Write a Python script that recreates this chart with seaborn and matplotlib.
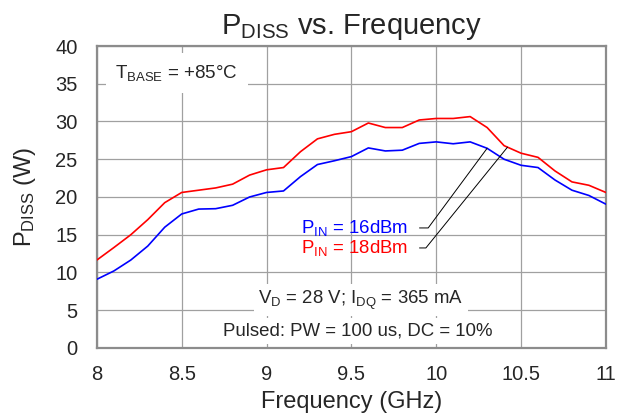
import numpy as np
import pandas as pd
import matplotlib
matplotlib.use('Agg')
import matplotlib.pyplot as plt
import seaborn as sns

# values, 0.1 GHz steps
freq_ghz = np.round(np.arange(8.0, 11.01, 0.1), 1)
pdiss_16dbm = [9.1, 10.2, 11.65, 13.5, 16.0, 17.75, 18.4, 18.45, 18.9, 20.0,
               20.6, 20.8, 22.7, 24.3, 24.8, 25.35, 26.5, 26.1, 26.2, 27.1,
               27.3, 27.05, 27.3, 26.45, 25.0, 24.2, 23.9, 22.25, 20.9, 20.2,
               19.05]
pdiss_18dbm = [11.65, 13.3, 15.0, 17.0, 19.25, 20.6, 20.9, 21.2, 21.7, 22.9,
               23.6, 23.9, 26.0, 27.7, 28.3, 28.65, 29.8, 29.2, 29.2, 30.2,
               30.4, 30.4, 30.65, 29.2, 26.8, 25.8, 25.25, 23.45, 22.0, 21.55,
               20.6]
series_names = ['16dBm', '18dBm']
series_colors = {'16dBm': '#0000ff', '18dBm': '#ff0000'}
x_ticks = [8, 8.5, 9, 9.5, 10, 10.5, 11]
y_ticks = list(range(0, 41, 5))

df = pd.DataFrame({
    'freq': np.concatenate([freq_ghz, freq_ghz]),
    'pdiss': pdiss_16dbm + pdiss_18dbm,
    'pin': [series_names[0]] * len(freq_ghz) + [series_names[1]] * len(freq_ghz),
})

sns.set_style('white')
plt.rcParams['font.family'] = ['Liberation Sans', 'DejaVu Sans']
plt.rcParams['mathtext.fontset'] = 'custom'
plt.rcParams['mathtext.rm'] = 'Liberation Sans'

fig = plt.figure(figsize=(6.17, 4.19), dpi=100)
ax = fig.add_axes([0.157, 0.1695, 0.825, 0.7207])

sns.lineplot(data=df, x='freq', y='pdiss', hue='pin', palette=series_colors,
             errorbar=None, legend=False, linewidth=1.2, ax=ax, zorder=3)

ax.set_xlim(8, 11)
ax.set_ylim(0, 40)
ax.set_xticks(x_ticks)
ax.set_xticklabels(['{:g}'.format(t) for t in x_ticks])
ax.set_yticks(y_ticks)
ax.tick_params(length=0, labelsize=14.5)
ax.tick_params(axis='y', pad=14)
ax.tick_params(axis='x', pad=12)
ax.grid(True, color='#a0a0a0', linewidth=0.9)
for sp in ax.spines.values():
    sp.set_color('#8c8c8c')
    sp.set_linewidth(1.6)

ax.set_xlabel('Frequency (GHz)', fontsize=17, labelpad=5)
ax.set_ylabel(r'$\mathregular{P_{DISS}}$ (W)', fontsize=17, labelpad=12)
ax.set_title(r'$\mathregular{P_{DISS}}$ vs. Frequency', fontsize=21, pad=9)

box = dict(facecolor='white', edgecolor='none', pad=3)
ax.text(0.157, 0.911, r'$\mathregular{T_{BASE}}$ = +85°C', transform=ax.transAxes,
        ha='center', va='center', fontsize=13.5,
        bbox=dict(facecolor='white', edgecolor='none', pad=7), zorder=4)
ax.text(0.519, 0.159, r'$\mathregular{V_D}$ = 28 V; $\mathregular{I_{DQ}}$ = 365 mA', transform=ax.transAxes,
        ha='center', va='center', fontsize=13.4, bbox=box, zorder=4)
ax.text(0.513, 0.056, 'Pulsed: PW = 100 us, DC = 10%', transform=ax.transAxes,
        ha='center', va='center', fontsize=13.4, bbox=box, zorder=4)

# legend labels with leader lines to the curves
labels = [(series_names[0], pdiss_16dbm, 10.30, 15.9, 53.5),
          (series_names[1], pdiss_18dbm, 10.42, 13.25, 51)]
for name, vals, x_hit, y_txt, ang in labels:
    y_hit = np.interp(x_hit, freq_ghz, vals)
    ax.annotate(r'$\mathregular{P_{IN}}$ = ' + name, xy=(x_hit, y_hit), xytext=(9.833, y_txt),
                ha='right', va='center', fontsize=13.4, color=series_colors[name],
                arrowprops=dict(arrowstyle='-', color='black', lw=0.7, relpos=(1, 0.5),
                                shrinkA=6, shrinkB=0,
                                connectionstyle='angle,angleA=0,angleB=%g,rad=0' % ang),
                zorder=5)

fig.savefig('out.png', dpi=100, facecolor='white')
